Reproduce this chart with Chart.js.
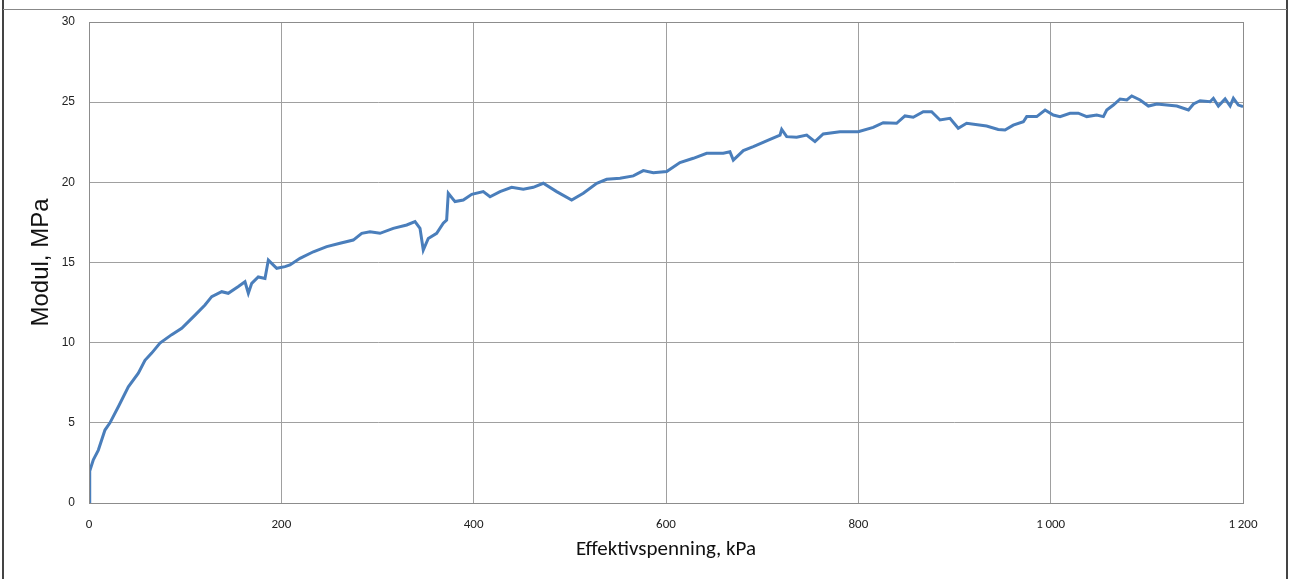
<!DOCTYPE html>
<html>
  <body style="margin: 0; width: 1290px; height: 579px; background: #fff; position: relative; overflow: hidden">
    <div style="position: absolute; left: 0; top: 0; width: 1290px; height: 579px">
      <canvas id="modulChart" width="1290" height="579"></canvas>
    </div>
    <div style="position: absolute; left: 2px; top: 0; width: 2px; height: 579px; background: #444"></div>
    <div style="position: absolute; left: 1286px; top: 0; width: 2px; height: 579px; background: #444"></div>
    <div style="position: absolute; left: 3px; top: 9px; width: 1284px; height: 1px; background: #888"></div>

    <script src="https://cdn.jsdelivr.net/npm/chart.js"></script>

    <script>
      // effektivspenning (kPa) and modul (MPa)
      const stress = [
        0, 0.5, 1, 4.5, 9.7, 16.6, 21.8, 30.5, 40.9, 51.3, 58.2, 65.2, 73.8, 86, 96.4, 110, 120.6,
        127.6, 138, 144.8, 155.3, 162.2, 165.7, 169.2, 176, 183, 186.5, 195.2, 203.8, 209, 219.4,
        233.3, 247.2, 261, 274.8, 283.6, 292.2, 302.6, 316.4, 330.4, 339, 344.2, 347.6, 352.8,
        361.5, 368.4, 371.9, 373.6, 380.6, 389.2, 398, 410, 417, 427.4, 439.5, 451.6, 462, 472.4,
        486.3, 501.9, 514, 528, 538.3, 552.2, 566, 576.4, 586.8, 600.7, 614.5, 628.4, 642.3,
        659.6, 666.5, 670, 680.4, 690.8, 708.2, 718.6, 720.3, 725.5, 735.9, 746.3, 754.9, 763.5,
        780.9, 799.9, 815.5, 825.9, 839.8, 848.5, 857.1, 867.5, 876.2, 884.9, 895.3, 903.9, 912.6,
        933.4, 945.5, 952.5, 961.1, 971.6, 975.1, 985.5, 994.2, 1002.7, 1009.7, 1020.1, 1028.7,
        1037.5, 1047.9, 1054.8, 1058.3, 1065.2, 1072.2, 1079.2, 1084.3, 1093, 1101.6, 1110.4,
        1120.8, 1131.2, 1143.3, 1148.5, 1155.4, 1165.8, 1169.2, 1174.4, 1181.4, 1186.6, 1190,
        1195.2, 1200,
      ];
      const modulus = [
        0, 1.0, 2.0, 2.7, 3.3, 4.55, 5.0, 6.0, 7.25, 8.1, 8.9, 9.35, 9.98, 10.5, 10.9, 11.7, 12.35,
        12.87, 13.18, 13.08, 13.5, 13.8, 13.08, 13.7, 14.1, 14.0, 15.15, 14.64, 14.74, 14.85, 15.26,
        15.67, 15.99, 16.2, 16.4, 16.82, 16.92, 16.82, 17.13, 17.34, 17.55, 17.13, 15.78, 16.5,
        16.82, 17.45, 17.65, 19.32, 18.8, 18.9, 19.25, 19.42, 19.1, 19.42, 19.69, 19.57, 19.69, 19.94,
        19.42, 18.9, 19.32, 19.94, 20.19, 20.25, 20.4, 20.73, 20.6, 20.67, 21.23, 21.5, 21.81,
        21.81, 21.91, 21.39, 21.98, 22.23, 22.68, 22.95, 23.3, 22.85, 22.81, 22.95, 22.54, 23.02,
        23.16, 23.16, 23.43, 23.72, 23.68, 24.14, 24.06, 24.41, 24.41, 23.89, 23.99, 23.37, 23.68,
        23.51, 23.3, 23.26, 23.57, 23.78, 24.1, 24.1, 24.51, 24.2, 24.1, 24.31, 24.31,
        24.1, 24.2, 24.1, 24.51, 24.82, 25.2, 25.14, 25.39, 25.14, 24.76, 24.89,
        24.82, 24.76, 24.51, 24.89, 25.09, 25.03, 25.24, 24.76, 25.2, 24.76, 25.24,
        24.82, 24.72,
      ];
      const xTicks = [0, 200, 400, 600, 800, 1000, 1200];
      const yTicks = [0, 5, 10, 15, 20, 25, 30];

      const points = stress.map((s, i) => ({ x: s, y: modulus[i] }));

      const ctx = document.getElementById("modulChart");

      new Chart(ctx, {
        type: "line",
        data: {
          datasets: [
            {
              data: points,
              borderColor: "#4a7ebb",
              borderWidth: 3,
              pointRadius: 0,
              tension: 0,
              fill: false,
            },
          ],
        },
        options: {
          responsive: false,
          animation: false,
          layout: { padding: { left: 0, top: 22, right: 47, bottom: 0 } },
          plugins: { legend: { display: false }, tooltip: { enabled: false } },
          scales: {
            x: {
              type: "linear",
              min: 0,
              max: 1200,
              afterBuildTicks: (scale) => {
                scale.ticks = xTicks.map((v) => ({ value: v }));
              },
              afterFit: (scale) => {
                scale.height = 76;
              },
              grid: { color: "#a0a0a0", lineWidth: 1, drawTicks: false },
              border: { color: "#8c8c8c", width: 1 },
              ticks: {
                autoSkip: false,
                padding: 14,
                maxRotation: 0,
                color: "#222",
                font: { family: "Carlito, Lato, sans-serif", size: 13 },
                callback: (v) => String(v).replace(/\B(?=(\d{3})+(?!\d))/g, "\u2009"),
              },
              title: {
                display: true,
                text: "Effektivspenning, kPa",
                color: "#111",
                font: { family: "Carlito, Lato, sans-serif", size: 21 },
                padding: { top: 0, bottom: 17 },
              },
            },
            y: {
              min: 0,
              max: 30,
              afterBuildTicks: (scale) => {
                scale.ticks = yTicks.map((v) => ({ value: v }));
              },
              afterFit: (scale) => {
                scale.width = 89;
              },
              grid: { color: "#a0a0a0", lineWidth: 1, drawTicks: false },
              border: { color: "#8c8c8c", width: 1 },
              ticks: {
                autoSkip: false,
                padding: 14,
                color: "#222",
                font: { family: "Liberation Sans, Arial, sans-serif", size: 12 },
              },
              title: {
                display: true,
                text: "Modul, MPa",
                color: "#111",
                font: { family: "Liberation Sans, Arial, sans-serif", size: 24 },
                padding: { top: 27, bottom: 0 },
              },
            },
          },
        },
        plugins: [
          {
            id: "frame",
            afterDraw(chart) {
              const { ctx, chartArea: a } = chart;
              ctx.save();
              ctx.strokeStyle = "#8c8c8c";
              ctx.lineWidth = 1;
              ctx.strokeRect(a.left + 0.5, a.top + 0.5, a.right - a.left, a.bottom - a.top);
              ctx.restore();
            },
          },
        ],
      });
    </script>
  </body>
</html>
